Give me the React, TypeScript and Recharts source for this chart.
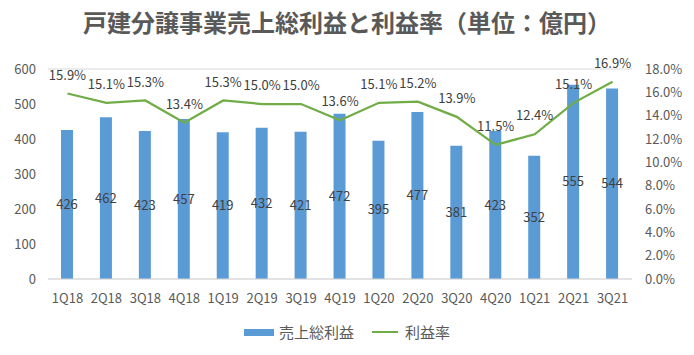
import React from 'react';
import { ComposedChart, Bar, Line, XAxis, YAxis, CartesianGrid, LabelList } from 'recharts';

const quarters = ['1Q18', '2Q18', '3Q18', '4Q18', '1Q19', '2Q19', '3Q19', '4Q19', '1Q20', '2Q20', '3Q20', '4Q20', '1Q21', '2Q21', '3Q21'];
const grossProfit = [426, 462, 423, 457, 419, 432, 421, 472, 395, 477, 381, 423, 352, 555, 544];
const marginRate = [15.9, 15.1, 15.3, 13.4, 15.3, 15.0, 15.0, 13.6, 15.1, 15.2, 13.9, 11.5, 12.4, 15.1, 16.9];
const leftTicks = [0, 100, 200, 300, 400, 500, 600];
const rightTicks = [0, 2, 4, 6, 8, 10, 12, 14, 16, 18];

const title = '戸建分譲事業売上総利益と利益率（単位：億円）';
const barName = '売上総利益';
const lineName = '利益率';

const data = quarters.map((q, i) => ({ q, gp: grossProfit[i], rate: marginRate[i] }));

const FONT = '"Noto Sans CJK JP", "Noto Sans", sans-serif';
const TEXT = '#595959';
const BLUE = '#5B9BD5';
const GREEN = '#70AD47';

const LegendBox = () => (
  <div style={{ position: 'absolute', left: 0, top: 321, width: 694, display: 'flex', justifyContent: 'center', alignItems: 'center', fontFamily: FONT, fontSize: 15, color: TEXT, lineHeight: '22px' }}>
    <div style={{ display: 'flex', alignItems: 'center', marginRight: 18 }}>
      <div style={{ width: 30, height: 7, background: BLUE, marginRight: 5 }} />
      <span>{barName}</span>
    </div>
    <div style={{ display: 'flex', alignItems: 'center' }}>
      <div style={{ width: 26, height: 2, background: GREEN, marginRight: 7 }} />
      <span>{lineName}</span>
    </div>
  </div>
);

export default function App() {
  return (
    <div style={{ position: 'absolute', left: 0, top: 0, width: 694, height: 355, background: '#fff' }}>
      <div style={{ position: 'absolute', left: 0, top: 6, width: 694, textAlign: 'center', fontFamily: FONT, fontSize: 24, fontWeight: 'bold', color: TEXT, lineHeight: '32px' }}>
        {title}
      </div>
      <ComposedChart width={694} height={355} data={data} margin={{ top: 69, right: 0, bottom: 46, left: 8 }}>
        <CartesianGrid vertical={false} stroke="#D9D9D9" />
        <XAxis dataKey="q" axisLine={{ stroke: '#D9D9D9' }} tickLine={false} tickMargin={9} height={30}
          tick={{ fill: TEXT, fontSize: 13, fontFamily: FONT }} interval={0} />
        <YAxis yAxisId="left" width={40} domain={[0, 600]} ticks={leftTicks} axisLine={false} tickLine={false} tickMargin={6}
          interval={0} tick={{ fill: TEXT, fontSize: 13, fontFamily: FONT }} />
        <YAxis yAxisId="right" orientation="right" width={62} domain={[0, 18]} ticks={rightTicks} axisLine={false} tickLine={false} tickMargin={7}
          interval={0} tickFormatter={(v: number) => `${v.toFixed(1)}%`} tick={{ fill: TEXT, fontSize: 13, fontFamily: FONT, textAnchor: 'start' }} />
        <Bar yAxisId="left" dataKey="gp" name={barName} fill={BLUE} barSize={12} isAnimationActive={false}>
          <LabelList dataKey="gp" position="center" fill="#404040" fontSize={13} fontFamily={FONT} />
        </Bar>
        <Line yAxisId="right" dataKey="rate" name={lineName} stroke={GREEN} strokeWidth={2.25} dot={false} isAnimationActive={false}>
          <LabelList dataKey="rate" position="top" offset={14} fill="#404040" fontSize={13} fontFamily={FONT}
            formatter={(v: number) => `${v.toFixed(1)}%`} />
        </Line>
      </ComposedChart>
      <LegendBox />
    </div>
  );
}
